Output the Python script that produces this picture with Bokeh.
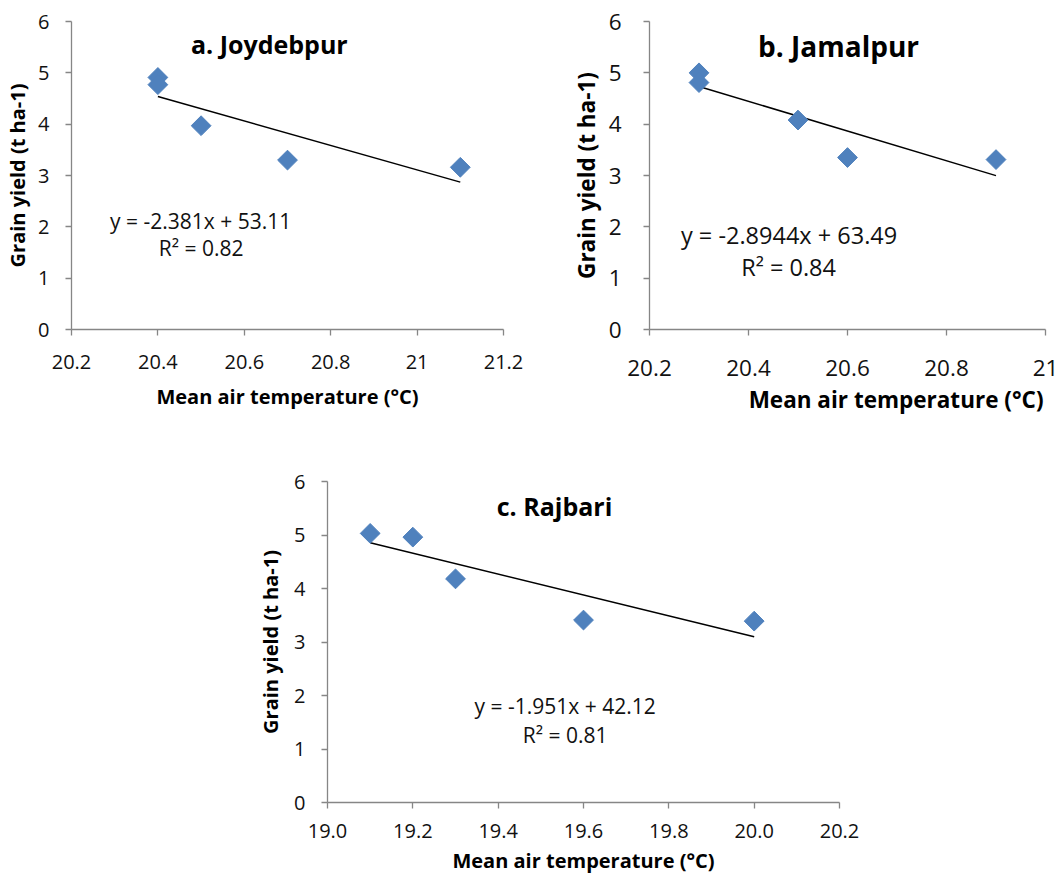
from bokeh.plotting import figure
from bokeh.layouts import column, row
from bokeh.models import Range1d, Label, Title, FixedTicker, Spacer
from bokeh.embed import file_html
from bokeh.resources import INLINE

# ---------------- data ----------------
a_temp = [20.4, 20.4, 20.5, 20.7, 21.1]
a_yield = [4.91, 4.77, 3.97, 3.30, 3.16]
a_trend_x = [20.4, 21.1]
a_trend_y = [4.538, 2.871]
a_xticks = [20.2, 20.4, 20.6, 20.8, 21.0, 21.2]
a_xlabels = ["20.2", "20.4", "20.6", "20.8", "21", "21.2"]

b_temp = [20.3, 20.3, 20.5, 20.6, 20.9]
b_yield = [5.00, 4.81, 4.08, 3.35, 3.31]
b_trend_x = [20.3, 20.9]
b_trend_y = [4.734, 2.997]
b_xticks = [20.2, 20.4, 20.6, 20.8, 21.0]
b_xlabels = ["20.2", "20.4", "20.6", "20.8", "21"]

c_temp = [19.1, 19.2, 19.3, 19.6, 20.0]
c_yield = [5.03, 4.96, 4.18, 3.41, 3.39]
c_trend_x = [19.1, 20.0]
c_trend_y = [4.856, 3.100]
c_xticks = [19.0, 19.2, 19.4, 19.6, 19.8, 20.0, 20.2]
c_xlabels = ["19.0", "19.2", "19.4", "19.6", "19.8", "20.0", "20.2"]

y_ticks = [0, 1, 2, 3, 4, 5, 6]
y_labels = ["0", "1", "2", "3", "4", "5", "6"]

titles = ["a. Joydebpur", "b. Jamalpur", "c. Rajbari"]
equations = ["y = -2.381x + 53.11", "y = -2.8944x + 63.49", "y = -1.951x + 42.12"]
r2_texts = ["R\u00b2 = 0.82", "R\u00b2 = 0.84", "R\u00b2 = 0.81"]
x_title = "Mean air temperature (\u00b0C)"
y_title = "Grain yield (t ha-1)"

FONT = "Open Sans"
AXIS_COL = "#868686"
MARK_COL = "#4F81BD"


def make_panel(width, height, mb, xr, xticks, xlabels, temp, yld, tx, ty,
               title, eq, r2, title_pos, eq_pos, r2_pos, fs, center_xtitle=True,
               y_label_standoff=4, y_tick_standoff=16, x_tick_standoff=15,
               x_label_standoff=10, title_offset=0):
    p = figure(width=width, height=height, output_backend="svg",
               toolbar_location=None, x_range=Range1d(*xr), y_range=Range1d(0, 6),
               min_border_left=mb[0], min_border_right=mb[1],
               min_border_top=mb[2], min_border_bottom=mb[3])
    p.outline_line_color = None
    p.grid.visible = False
    p.background_fill_color = "white"
    p.border_fill_color = "white"

    for ax in (p.xaxis[0], p.yaxis[0]):
        ax.axis_line_color = AXIS_COL
        ax.axis_line_width = 1.3
        ax.major_tick_line_color = AXIS_COL
        ax.major_tick_line_width = 1.3
        ax.major_tick_in = 0
        ax.major_tick_out = 6
        ax.minor_tick_line_color = None
        ax.major_label_text_font = FONT
        ax.major_label_text_font_size = f"{fs['tick']}px"
        ax.major_label_text_color = "#111111"
        ax.axis_label_text_font = FONT
        ax.axis_label_text_font_style = "bold"
        ax.axis_label_text_font_size = f"{fs['axis']}px"
        ax.axis_label_text_color = "#000000"

    p.xaxis.ticker = FixedTicker(ticks=xticks)
    p.xaxis.major_label_overrides = {t: l for t, l in zip(xticks, xlabels)}
    p.xaxis.major_label_standoff = x_tick_standoff
    p.yaxis.ticker = FixedTicker(ticks=y_ticks)
    p.yaxis.major_label_overrides = {t: l for t, l in zip(y_ticks, y_labels)}
    p.yaxis.major_label_standoff = y_tick_standoff
    p.yaxis.axis_label = y_title
    p.yaxis.axis_label_standoff = y_label_standoff

    if center_xtitle:
        p.xaxis.axis_label = x_title
        p.xaxis.axis_label_standoff = x_label_standoff
    else:
        t = Title(text=x_title, align="right", text_font=FONT,
                  text_font_style="bold", text_font_size=f"{fs['axis']}px",
                  text_color="#000000", standoff=x_label_standoff,
                  offset=title_offset)
        p.add_layout(t, "below")

    p.line(tx, ty, line_color="black", line_width=1.5)
    p.scatter(temp, yld, marker="square", angle=0.785398, size=14,
              fill_color=MARK_COL, line_color=MARK_COL, line_width=1)

    p.add_layout(Label(x=title_pos[0], y=title_pos[1], text=title, text_font=FONT,
                       text_font_style="bold", text_font_size=f"{fs['title']}px",
                       text_align="center", text_baseline="middle", text_color="#000000"))
    p.add_layout(Label(x=eq_pos[0], y=eq_pos[1], text=eq, text_font=FONT,
                       text_font_size=f"{fs['eq']}px", text_align="center",
                       text_baseline="middle", text_color="#111111"))
    p.add_layout(Label(x=r2_pos[0], y=r2_pos[1], text=r2, text_font=FONT,
                       text_font_size=f"{fs['eq']}px", text_align="center",
                       text_baseline="middle", text_color="#111111"))
    return p


fs_ac = dict(tick=20, axis=20, title=25, eq=21)
fs_b = dict(tick=22.5, axis=22.5, title=28, eq=23.5)

fa = make_panel(560, 430, (71, 57, 21, 101), (20.2, 21.2), a_xticks, a_xlabels,
                a_temp, a_yield, a_trend_x, a_trend_y,
                titles[0], equations[0], r2_texts[0],
                (20.658, 5.566), (20.499, 2.123), (20.50, 1.578), fs_ac,
                y_label_standoff=4, x_tick_standoff=19, x_label_standoff=11)

fb = make_panel(499, 430, (89, 14, 20, 98), (20.2, 21.0), b_xticks, b_xlabels,
                b_temp, b_yield, b_trend_x, b_trend_y,
                titles[1], equations[1], r2_texts[1],
                (20.582, 5.519), (20.482, 1.833), (20.481, 1.225), fs_b,
                center_xtitle=False, y_label_standoff=4, y_tick_standoff=22,
                x_tick_standoff=24, x_label_standoff=6, title_offset=2)

fc = make_panel(620, 447, (77, 31, 51, 75), (19.0, 20.2), c_xticks, c_xlabels,
                c_temp, c_yield, c_trend_x, c_trend_y,
                titles[2], equations[2], r2_texts[2],
                (19.532, 5.538), (19.557, 1.813), (19.557, 1.271), fs_ac,
                y_label_standoff=7, x_tick_standoff=15, x_label_standoff=6)

layout = column(row(fa, fb), row(Spacer(width=250, height=447), fc))

open("out.html", "w").write(file_html(layout, INLINE))
